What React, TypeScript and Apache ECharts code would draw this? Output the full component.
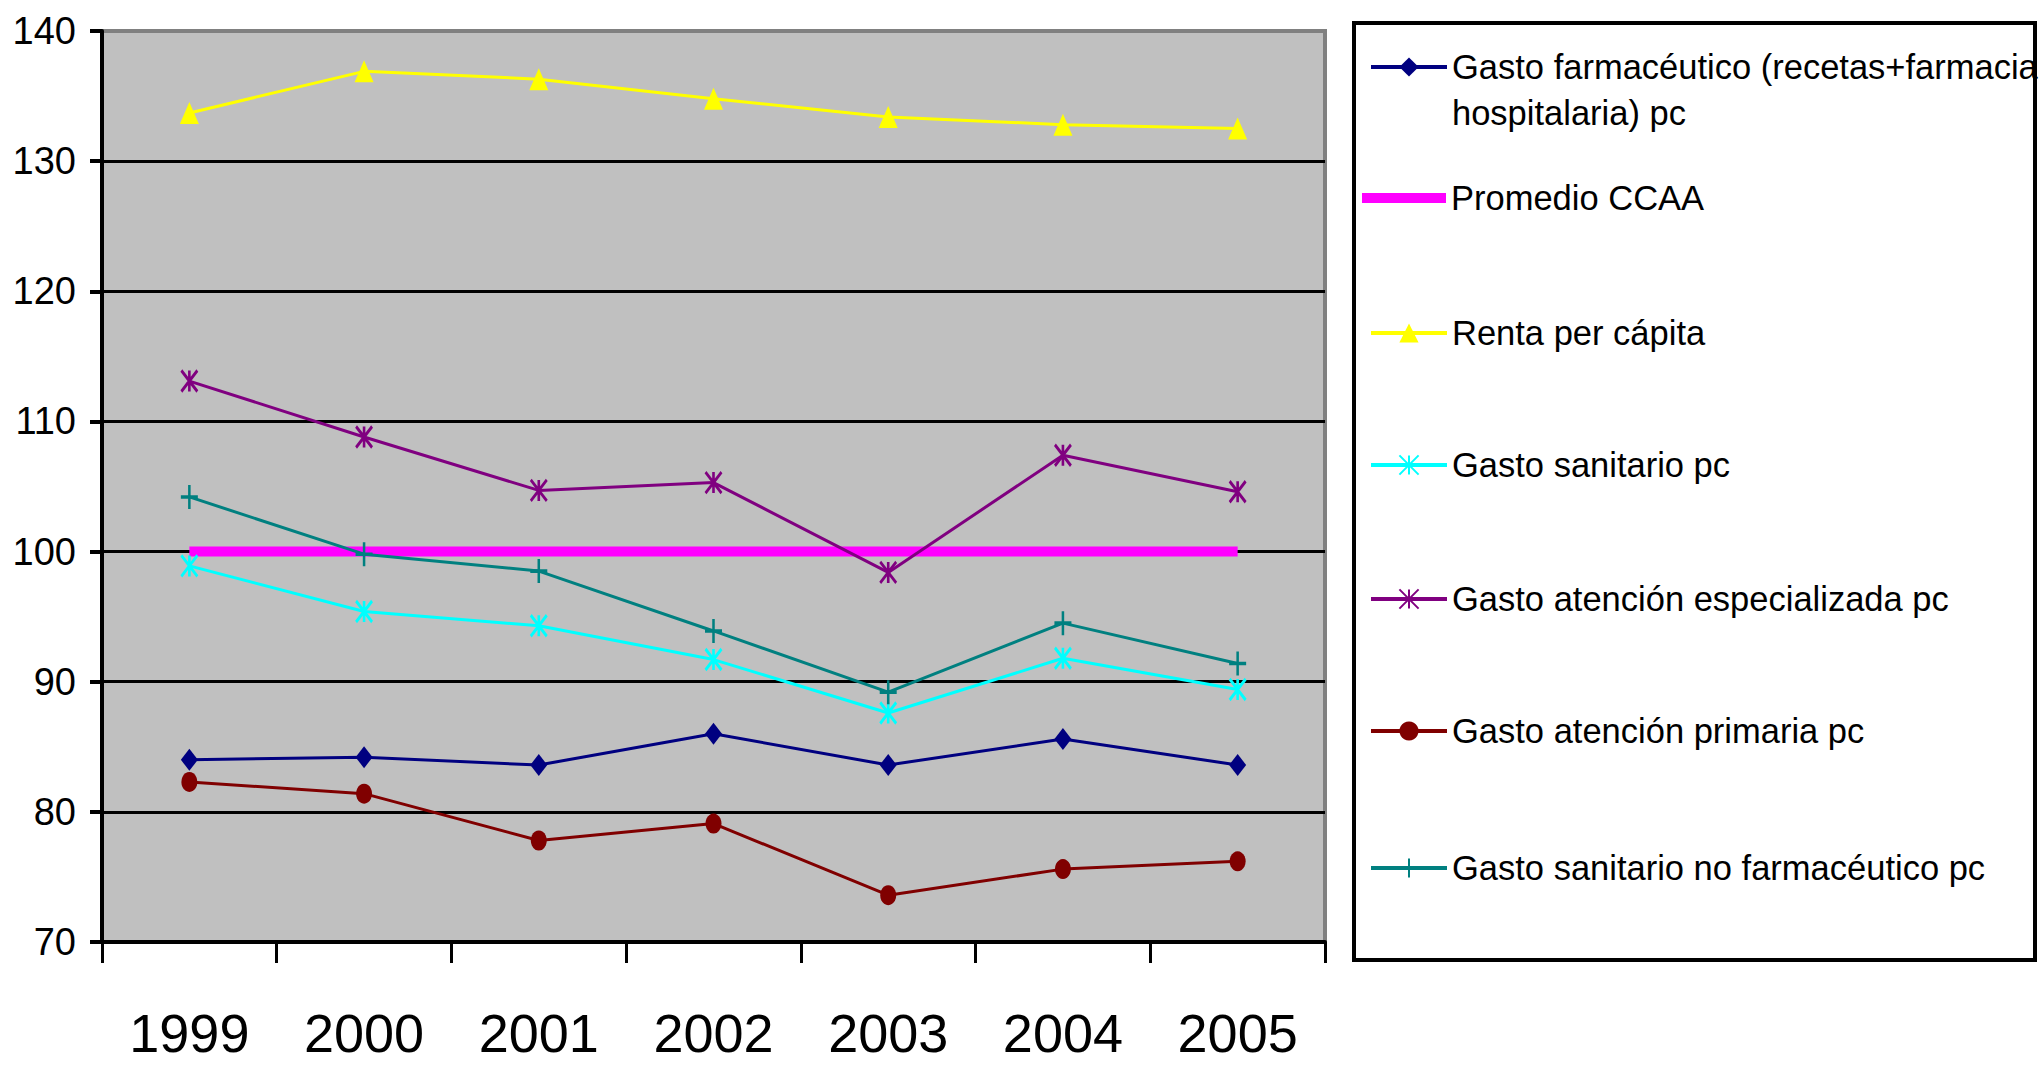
import React, { useEffect, useRef } from "react";
import * as echarts from "echarts";

// Categories (years)
const years = ["1999", "2000", "2001", "2002", "2003", "2004", "2005"];

// Index values (average of the autonomous communities = 100)
const gastoFarmaceutico = [84.0, 84.2, 83.6, 86.0, 83.6, 85.6, 83.6];
const promedioCCAA = [100, 100, 100, 100, 100, 100, 100];
const rentaPerCapita = [133.7, 136.9, 136.3, 134.8, 133.4, 132.8, 132.5];
const gastoSanitario = [98.9, 95.4, 94.3, 91.7, 87.6, 91.8, 89.4];
const gastoEspecializada = [113.1, 108.8, 104.7, 105.3, 98.4, 107.4, 104.6];
const gastoPrimaria = [82.3, 81.4, 77.8, 79.1, 73.6, 75.6, 76.2];
const gastoNoFarmaceutico = [104.2, 99.8, 98.5, 93.9, 89.2, 94.5, 91.4];

// Y axis range
const yMin = 70;
const yMax = 140;
const yStep = 10;

const NAMES = [
  "Gasto farmacéutico (recetas+farmacia hospitalaria) pc",
  "Promedio CCAA",
  "Renta per cápita",
  "Gasto sanitario pc",
  "Gasto atención especializada pc",
  "Gasto atención primaria pc",
  "Gasto sanitario no farmacéutico pc",
];

const STAR = "path://M0,0L10,10M10,0L0,10M5,0L5,10";
const PLUS = "path://M5,0L5,10M0,5L10,5";

const FONT = "'Liberation Sans', Arial, sans-serif";

export default function App() {
  const ref = useRef<HTMLDivElement>(null);

  useEffect(() => {
    document.body.style.margin = "0";
    if (!ref.current) return;
    const chart = echarts.init(ref.current, null, { renderer: "svg" });

    const lineW = 3;
    const mkSeries = (
      name: string,
      data: number[],
      color: string,
      symbol: string,
      symbolSize: number[] | number,
      stroked = false
    ) => ({
      name,
      type: "line",
      data,
      color,
      symbol,
      symbolSize,
      lineStyle: { width: lineW, color },
      itemStyle: stroked
        ? { color, borderColor: color, borderWidth: 3 }
        : { color },
      emphasis: { disabled: true },
    });

    const series: any[] = [
      mkSeries(NAMES[0], gastoFarmaceutico, "#000080", "diamond", [17, 22]),
      {
        name: NAMES[1],
        type: "line",
        data: promedioCCAA,
        color: "#FF00FF",
        symbol: "none",
        lineStyle: { width: 10, color: "#FF00FF" },
        emphasis: { disabled: true },
      },
      mkSeries(NAMES[2], rentaPerCapita, "#FFFF00", "triangle", [19, 22]),
      mkSeries(NAMES[3], gastoSanitario, "#00FFFF", STAR, [16, 21], true),
      mkSeries(NAMES[4], gastoEspecializada, "#800080", STAR, [16, 21], true),
      mkSeries(NAMES[5], gastoPrimaria, "#800000", "circle", [16, 20]),
      mkSeries(NAMES[6], gastoNoFarmaceutico, "#008080", PLUS, [17, 24], true),
    ];

    // One legend block per entry, placed down the boxed panel on the right
    const lh = 46;
    const iconY = [67, 198, 333, 465, 599, 731, 868];
    const legends: any[] = NAMES.map((name, i) => {
      const base: any = {
        orient: "vertical",
        padding: 0,
        selectedMode: false,
        left: 1369,
        itemWidth: 76,
        itemHeight: 24,
        lineStyle: { width: 4 },
        textStyle: {
          fontFamily: FONT,
          fontSize: 34.5,
          lineHeight: lh,
          color: "#000",
        },
        data: [name],
        top: iconY[i] - lh / 2,
      };
      if (i === 0) {
        // blank first row keeps the first text row level with the icon
        base.formatter = () =>
          " \nGasto farmacéutico (recetas+farmacia\nhospitalaria) pc";
        base.top = iconY[i] - lh * 1.5;
      }
      if (i === 1) {
        base.left = 1362;
        base.itemWidth = 84;
        base.itemHeight = 10;
        base.data = [{ name, icon: "rect" }];
      }
      return base;
    });

    const splitColors: string[] = [];
    for (let v = yMin; v <= yMax; v += yStep) {
      splitColors.push(v === yMax ? "#808080" : "#000000");
    }

    chart.setOption({
      animation: false,
      grid: {
        left: 102,
        top: 31,
        width: 1223,
        height: 911,
        show: true,
        backgroundColor: "#C0C0C0",
        borderColor: "#808080",
        borderWidth: 4,
      },
      legend: legends,
      xAxis: {
        type: "category",
        data: years,
        boundaryGap: true,
        axisLine: { show: true, lineStyle: { color: "#000", width: 4 } },
        axisTick: {
          show: true,
          interval: 0,
          length: 21,
          lineStyle: { color: "#000", width: 3 },
        },
        axisLabel: {
          interval: 0,
          margin: 64,
          fontSize: 54,
          lineHeight: 54,
          fontFamily: FONT,
          color: "#000",
        },
        splitLine: { show: false },
      },
      yAxis: {
        type: "value",
        min: yMin,
        max: yMax,
        interval: yStep,
        axisLine: { show: true, lineStyle: { color: "#000", width: 4 } },
        axisTick: {
          show: true,
          length: 12,
          lineStyle: { color: "#000", width: 4 },
        },
        axisLabel: {
          margin: 26,
          fontSize: 38,
          fontFamily: FONT,
          color: "#000",
        },
        splitLine: {
          show: true,
          lineStyle: { color: splitColors, width: 3 },
        },
      },
      graphic: [
        {
          type: "rect",
          shape: { x: 1354, y: 23, width: 681, height: 937 },
          style: { fill: "none", stroke: "#000", lineWidth: 4 },
          silent: true,
        },
      ],
      series,
    });

    return () => chart.dispose();
  }, []);

  return (
    <div
      ref={ref}
      style={{
        position: "fixed",
        left: 0,
        top: 0,
        width: 2039,
        height: 1067,
        background: "#fff",
      }}
    />
  );
}
